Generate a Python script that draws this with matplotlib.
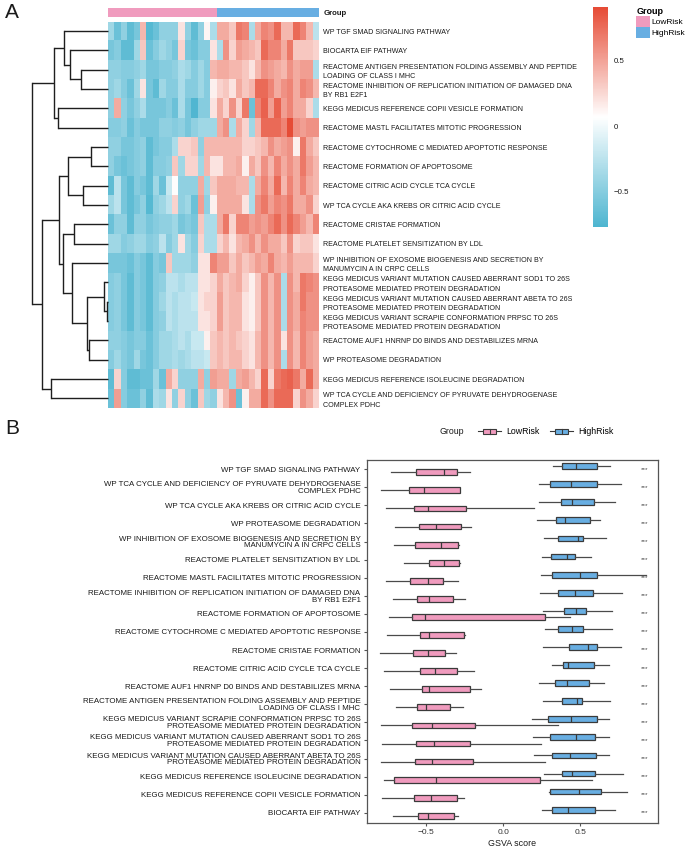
import numpy as np
import matplotlib
matplotlib.use("Agg")
import matplotlib.pyplot as plt
from matplotlib.colors import LinearSegmentedColormap, Normalize, ListedColormap
from matplotlib.patches import Patch, Rectangle
from matplotlib.lines import Line2D
from matplotlib.legend_handler import HandlerBase
import matplotlib.cm as cm

plt.rcParams['font.family'] = ['Liberation Sans', 'DejaVu Sans']

# ---------------- data ----------------
pathways = [
    "WP TGF SMAD SIGNALING PATHWAY",
    "BIOCARTA EIF PATHWAY",
    "REACTOME ANTIGEN PRESENTATION FOLDING ASSEMBLY AND PEPTIDE\nLOADING OF CLASS I MHC",
    "REACTOME INHIBITION OF REPLICATION INITIATION OF DAMAGED DNA\nBY RB1 E2F1",
    "KEGG MEDICUS REFERENCE COPII VESICLE FORMATION",
    "REACTOME MASTL FACILITATES MITOTIC PROGRESSION",
    "REACTOME CYTOCHROME C MEDIATED APOPTOTIC RESPONSE",
    "REACTOME FORMATION OF APOPTOSOME",
    "REACTOME CITRIC ACID CYCLE TCA CYCLE",
    "WP TCA CYCLE AKA KREBS OR CITRIC ACID CYCLE",
    "REACTOME CRISTAE FORMATION",
    "REACTOME PLATELET SENSITIZATION BY LDL",
    "WP INHIBITION OF EXOSOME BIOGENESIS AND SECRETION BY\nMANUMYCIN A IN CRPC CELLS",
    "KEGG MEDICUS VARIANT MUTATION CAUSED ABERRANT SOD1 TO 26S\nPROTEASOME MEDIATED PROTEIN DEGRADATION",
    "KEGG MEDICUS VARIANT MUTATION CAUSED ABERRANT ABETA TO 26S\nPROTEASOME MEDIATED PROTEIN DEGRADATION",
    "KEGG MEDICUS VARIANT SCRAPIE CONFORMATION PRPSC TO 26S\nPROTEASOME MEDIATED PROTEIN DEGRADATION",
    "REACTOME AUF1 HNRNP D0 BINDS AND DESTABILIZES MRNA",
    "WP PROTEASOME DEGRADATION",
    "KEGG MEDICUS REFERENCE ISOLEUCINE DEGRADATION",
    "WP TCA CYCLE AND DEFICIENCY OF PYRUVATE DEHYDROGENASE\nCOMPLEX PDHC",
]

group_names = ["LowRisk", "HighRisk"]
group_counts = [17, 16]
group_colors = ["#F09BBE", "#68AEE2"]

# GSVA scores per pathway (rows, heatmap order) x samples (17 LowRisk, 16 HighRisk)
heat_values = [
    [-0.38,-0.62,-0.45,-0.68,-0.56,0.40,-0.72,-0.62,-0.45,-0.45,-0.45,0.20,-0.45,-0.68,-0.45,0.11,-0.32,
     0.46,0.46,0.33,0.70,0.64,-0.32,0.46,0.64,0.58,0.76,0.40,0.40,0.76,0.64,0.40,-0.25],
    [-0.56,-0.50,-0.68,-0.68,-0.38,0.33,-0.62,-0.50,-0.38,-0.45,-0.56,0.27,-0.56,-0.62,-0.50,-0.50,0.20,
     -0.32,0.58,0.27,0.52,0.46,0.40,0.33,0.76,0.64,0.64,0.46,0.70,0.33,0.33,0.33,0.27],
    [-0.45,-0.45,-0.50,-0.50,-0.45,-0.38,-0.56,-0.56,-0.50,-0.50,-0.45,-0.32,-0.38,-0.50,-0.38,-0.50,0.40,
     0.46,0.46,0.40,0.40,0.33,0.20,0.40,0.58,0.52,0.46,0.40,0.58,0.46,0.52,0.52,-0.32],
    [-0.45,-0.38,-0.50,-0.62,-0.38,0.20,-0.56,-0.68,-0.38,-0.50,-0.50,-0.32,-0.50,-0.50,-0.38,-0.50,0.14,
     0.27,0.33,0.20,0.46,0.33,0.40,0.76,0.76,0.64,0.46,0.58,0.64,0.46,0.64,0.58,0.40],
    [-0.45,0.46,-0.45,-0.56,-0.45,-0.32,-0.56,-0.56,-0.56,-0.50,-0.62,-0.32,-0.56,-0.75,-0.50,-0.50,0.20,
     0.46,0.27,0.58,0.27,0.70,-0.62,0.64,0.80,0.52,0.80,0.52,0.64,0.46,0.46,0.27,-0.32],
    [-0.50,-0.50,-0.45,-0.62,-0.50,-0.56,-0.56,-0.56,-0.45,-0.45,-0.50,-0.45,-0.56,-0.45,-0.38,-0.38,-0.38,
     0.46,0.58,-0.32,0.46,0.27,-0.38,0.40,0.76,0.76,0.76,0.64,0.90,0.58,0.52,0.58,0.58],
    [-0.45,-0.45,-0.56,-0.56,-0.50,-0.45,-0.68,-0.56,-0.50,-0.50,-0.32,0.27,0.27,0.33,-0.45,0.40,0.40,
     0.40,0.40,0.40,0.40,0.27,0.27,0.33,0.40,0.58,0.46,0.52,0.58,0.14,0.70,0.46,0.33],
    [-0.45,-0.56,-0.62,-0.56,-0.50,-0.45,-0.68,-0.50,-0.50,-0.45,0.33,-0.38,0.27,0.27,-0.38,0.40,0.20,
     0.20,0.40,0.40,0.46,0.14,0.46,0.33,0.58,0.40,0.64,0.46,0.58,0.46,0.70,0.52,0.40],
    [-0.68,-0.25,-0.56,-0.68,-0.50,-0.56,-0.68,-0.38,-0.62,-0.19,0.08,-0.45,-0.45,-0.45,0.46,-0.38,0.33,
     0.46,0.46,0.46,0.40,0.40,-0.32,0.46,0.64,0.46,0.76,0.40,0.64,0.46,0.64,0.46,0.40],
    [-0.38,-0.25,-0.56,-0.68,-0.56,-0.45,-0.72,-0.45,-0.38,-0.25,0.27,-0.45,-0.38,-0.62,0.52,-0.45,0.14,
     0.46,0.46,0.46,0.46,0.20,-0.32,0.58,0.70,0.52,0.64,0.58,0.70,0.46,0.46,0.58,0.27],
    [-0.62,-0.45,-0.45,-0.68,-0.45,-0.45,-0.56,-0.50,-0.45,-0.45,-0.38,-0.56,-0.50,-0.56,0.33,-0.32,-0.32,
     0.46,0.70,0.27,0.64,0.64,0.52,0.58,0.52,0.64,0.76,0.58,0.76,0.64,0.52,0.40,0.64],
    [-0.38,-0.38,-0.50,-0.45,-0.38,-0.38,-0.50,-0.45,-0.25,-0.50,-0.38,0.20,-0.38,-0.50,0.27,-0.32,-0.32,
     0.27,0.40,0.20,0.40,0.46,0.58,0.40,0.58,0.46,0.46,0.33,0.58,0.27,0.33,0.33,0.20],
    [-0.56,-0.56,-0.56,-0.62,-0.50,-0.56,-0.68,-0.50,-0.56,0.33,-0.38,-0.38,-0.38,-0.45,0.20,0.20,0.64,
     0.52,0.52,0.33,0.46,0.33,0.40,0.52,0.46,0.64,0.46,0.40,0.52,0.40,0.40,0.40,0.27],
    [-0.50,-0.45,-0.56,-0.68,-0.50,-0.56,-0.68,-0.50,-0.45,-0.25,-0.25,-0.32,-0.25,-0.25,0.20,0.20,0.27,
     0.46,0.33,0.40,0.46,0.27,0.14,0.33,0.58,0.40,0.58,-0.32,0.58,0.40,0.70,0.64,0.58],
    [-0.50,-0.45,-0.56,-0.68,-0.50,-0.56,-0.68,-0.50,-0.38,-0.25,-0.32,-0.25,-0.25,-0.19,0.20,0.27,0.27,
     0.52,0.33,0.40,0.40,0.20,0.14,0.33,0.58,0.40,0.58,-0.32,0.58,0.46,0.70,0.58,0.58],
    [-0.50,-0.45,-0.56,-0.68,-0.50,-0.56,-0.68,-0.50,-0.45,-0.25,-0.32,-0.25,-0.25,-0.25,0.20,0.20,0.27,
     0.52,0.33,0.40,0.40,0.20,0.14,0.33,0.58,0.40,0.58,-0.32,0.58,0.46,0.64,0.58,0.58],
    [-0.45,-0.45,-0.50,-0.56,-0.50,-0.50,-0.62,-0.50,-0.38,-0.38,-0.32,-0.25,-0.32,-0.19,-0.19,0.14,0.33,
     0.40,0.33,0.40,0.33,0.27,0.20,0.40,0.58,0.40,0.58,0.20,0.58,0.40,0.64,0.52,0.46],
    [-0.50,-0.38,-0.50,-0.56,-0.38,-0.56,-0.62,-0.50,-0.38,-0.38,-0.32,-0.38,-0.32,-0.25,-0.25,-0.19,0.33,
     0.40,0.33,0.40,0.40,0.27,0.20,0.40,0.58,0.40,0.58,-0.32,0.58,0.40,0.64,0.52,0.46],
    [-0.68,0.27,-0.50,-0.68,-0.68,-0.62,-0.62,-0.38,-0.62,0.46,0.27,-0.45,-0.45,-0.45,0.46,-0.45,0.52,
     0.46,0.46,-0.38,0.46,0.52,0.40,0.27,0.76,0.27,0.70,0.76,0.80,0.70,0.46,0.76,0.46],
    [-0.62,0.52,-0.50,-0.62,-0.62,-0.45,-0.68,-0.32,-0.38,0.20,-0.45,0.27,-0.45,-0.62,0.33,-0.38,-0.45,
     0.20,0.40,0.58,-0.62,0.14,0.46,0.46,0.76,0.58,0.76,0.76,0.76,0.27,0.58,0.46,0.27],
]

# row dendrogram: (child a, child b, merge height); ids < 20 are rows, ids >= 20 earlier merges
row_merges = [
    (2, 3, 27.0), (1, 20, 38.7), (0, 21, 44.0), (4, 5, 50.7), (22, 23, 54.7),
    (6, 7, 17.3), (8, 9, 25.3), (25, 26, 40.3), (10, 11, 34.0), (14, 15, 1.3),
    (13, 29, 4.7), (16, 17, 19.7), (30, 31, 21.3), (12, 32, 36.3), (28, 33, 45.7),
    (27, 34, 49.0), (18, 19, 57.3), (35, 36, 66.3), (24, 37, 76.3),
]

color_limits = (-0.77, 0.91)
cbar_ticks = [-0.5, 0.0, 0.5]
cbar_ticklabels = ["\u22120.5", "0", "0.5"]

# Panel B: boxplot rows (top to bottom) as indices into `pathways`
box_order = [0, 19, 9, 17, 12, 11, 5, 3, 7, 6, 10, 8, 16, 2, 15, 13, 14, 18, 4, 1]
# [whisker low, Q1, median, Q3, whisker high]
low_stats = [
    [-0.725, -0.567, -0.385, -0.299, -0.216],
    [-0.792, -0.613, -0.511, -0.281, -0.277],
    [-0.762, -0.580, -0.487, -0.238, 0.203],
    [-0.703, -0.548, -0.433, -0.271, -0.208],
    [-0.710, -0.571, -0.405, -0.292, -0.286],
    [-0.641, -0.483, -0.385, -0.286, -0.280],
    [-0.762, -0.604, -0.485, -0.392, -0.292],
    [-0.716, -0.556, -0.481, -0.327, -0.245],
    [-0.738, -0.589, -0.504, 0.273, 0.435],
    [-0.753, -0.541, -0.483, -0.255, -0.250],
    [-0.801, -0.584, -0.485, -0.377, -0.305],
    [-0.775, -0.537, -0.439, -0.301, -0.186],
    [-0.736, -0.526, -0.483, -0.216, -0.143],
    [-0.695, -0.556, -0.502, -0.346, -0.260],
    [-0.790, -0.591, -0.463, -0.180, 0.355],
    [-0.784, -0.565, -0.450, -0.214, 0.247],
    [-0.790, -0.569, -0.463, -0.197, 0.275],
    [-0.775, -0.706, -0.437, 0.240, 0.578],
    [-0.784, -0.580, -0.465, -0.301, -0.255],
    [-0.716, -0.552, -0.485, -0.318, -0.294],
]
high_stats = [
    [0.322, 0.379, 0.476, 0.610, 0.693],
    [0.232, 0.303, 0.439, 0.610, 0.768],
    [0.234, 0.374, 0.448, 0.593, 0.723],
    [0.221, 0.342, 0.400, 0.563, 0.626],
    [0.266, 0.355, 0.487, 0.519, 0.669],
    [0.251, 0.310, 0.416, 0.465, 0.571],
    [0.245, 0.316, 0.496, 0.610, 0.924],
    [0.238, 0.353, 0.465, 0.582, 0.773],
    [0.262, 0.394, 0.474, 0.537, 0.706],
    [0.271, 0.355, 0.450, 0.517, 0.706],
    [0.258, 0.426, 0.552, 0.610, 0.768],
    [0.320, 0.387, 0.422, 0.589, 0.686],
    [0.232, 0.338, 0.416, 0.558, 0.656],
    [0.262, 0.379, 0.481, 0.511, 0.693],
    [0.190, 0.290, 0.442, 0.606, 0.688],
    [0.195, 0.303, 0.474, 0.597, 0.686],
    [0.199, 0.318, 0.435, 0.604, 0.688],
    [0.268, 0.379, 0.450, 0.595, 0.779],
    [0.297, 0.303, 0.494, 0.634, 0.805],
    [0.253, 0.320, 0.418, 0.595, 0.723],
]
signif = ["***", "***", "***", "***", "***", "***", "***", "***", "***", "***",
          "***", "***", "***", "***", "***", "***", "***", "***", "***", "***"]
box_xticks = [-0.5, 0.0, 0.5]

# ---------------- figure ----------------
W, H = 685, 848
fig = plt.figure(figsize=(W / 100, H / 100), dpi=100)


def px_axes(x0, y0, x1, y1):
    return fig.add_axes([x0 / W, 1 - y1 / H, (x1 - x0) / W, (y1 - y0) / H])


TXT = "#1a1a1a"
n_rows = len(pathways)
vals = np.array(heat_values)

cmap = LinearSegmentedColormap.from_list("bwr_npg", ["#4DB5D0", "#FFFFFF", "#E64B35"], N=256)
norm = Normalize(vmin=color_limits[0], vmax=color_limits[1])

# --- panel labels
fig.text(5 / W, 1 - 13 / H, "A", fontsize=15, va="center", ha="left", color=TXT)
fig.text(5 / W, 1 - 428 / H, "B", fontsize=15, va="center", ha="left", color=TXT)

# --- heatmap
hx0, hx1, hy0, hy1 = 108.3, 319.3, 21.5, 408.0
axh = px_axes(hx0, hy0, hx1, hy1)
axh.imshow(vals, cmap=cmap, norm=norm, aspect="auto", interpolation="nearest")
axh.set_xticks([])
axh.yaxis.tick_right()
axh.set_yticks(np.arange(n_rows))
axh.set_yticklabels(pathways, fontsize=5.15, color=TXT, linespacing=1.45)
axh.tick_params(axis="y", length=0, pad=2.8)
for s in axh.spines.values():
    s.set_visible(False)

# --- group annotation bar
axg = px_axes(hx0, 8.3, hx1, 16.7)
grp_idx = np.repeat(np.arange(len(group_names)), group_counts)[None, :]
axg.imshow(grp_idx, cmap=ListedColormap(group_colors), aspect="auto", interpolation="nearest",
           vmin=0, vmax=len(group_names) - 1)
axg.set_xticks([])
axg.set_yticks([0])
axg.yaxis.tick_right()
axg.set_yticklabels(["Group"], fontsize=5.6, fontweight="bold", color=TXT)
axg.tick_params(axis="y", length=0, pad=2.8)
for s in axg.spines.values():
    s.set_visible(False)

# --- row dendrogram
axd = px_axes(31.0, hy0, hx0, hy1)
pos = {i: float(i) for i in range(n_rows)}
hgt = {i: 0.0 for i in range(n_rows)}
for k, (a, b, h) in enumerate(row_merges):
    cid = n_rows + k
    for c in (a, b):
        axd.plot([hgt[c], h], [pos[c], pos[c]], color="#1e1e1e", lw=1.0, solid_capstyle="butt", clip_on=False)
    axd.plot([h, h], [pos[a], pos[b]], color="#1e1e1e", lw=1.0, solid_capstyle="projecting", clip_on=False)
    pos[cid] = (pos[a] + pos[b]) / 2
    hgt[cid] = h
axd.set_xlim(hx0 - 31.0, 0)
axd.set_ylim(n_rows - 0.5, -0.5)
axd.axis("off")

# --- colorbar
axc = px_axes(593, 7, 608, 227)
cb = fig.colorbar(cm.ScalarMappable(norm=norm, cmap=cmap), cax=axc)
cb.outline.set_visible(False)
cb.set_ticks(cbar_ticks)
cb.set_ticklabels(cbar_ticklabels)
axc.tick_params(length=0, labelsize=5.7, pad=4, colors=TXT)

# --- group legend (panel A)
legA = fig.legend(handles=[Patch(facecolor=c, edgecolor="none") for c in group_colors],
                  labels=group_names, title="Group", loc="upper left",
                  bbox_to_anchor=(632 / W, 1 - 3 / H), frameon=False, fontsize=6.0,
                  handlelength=1.6, handleheight=1.6, handletextpad=0.2,
                  labelspacing=0.02, borderpad=0.0, alignment="left")
legA.get_title().set_fontweight("bold")
legA.get_title().set_fontsize(6.5)

# --- panel B boxplot
axb = px_axes(366.7, 460.0, 658.0, 822.7)
edge = "#3a3a3a"
off = 0.17
bw = 0.32
ypos = np.arange(len(box_order))


def stats_list(arr):
    return [dict(whislo=s[0], q1=s[1], med=s[2], q3=s[3], whishi=s[4], fliers=[]) for s in arr]


for stats, dy, col in ((low_stats, off, group_colors[0]), (high_stats, -off, group_colors[1])):
    axb.bxp(stats_list(stats), positions=ypos + dy, widths=bw, orientation="horizontal",
            patch_artist=True, showcaps=False, showfliers=False, manage_ticks=False,
            boxprops=dict(facecolor=col, edgecolor=edge, linewidth=0.9),
            medianprops=dict(color=edge, linewidth=0.9),
            whiskerprops=dict(color="#4a4a4a", linewidth=0.9))

for i, s in enumerate(signif):
    axb.text(0.92, i, s, fontsize=4.6, color="#444444", ha="center", va="center")

axb.set_xlim(-0.885, 1.005)
axb.set_ylim(len(box_order) - 0.45, -0.51)
axb.set_yticks(ypos)
axb.set_yticklabels([pathways[i] for i in box_order], fontsize=5.7, color=TXT, linespacing=0.95)
axb.set_xticks(box_xticks)
axb.set_xticklabels(["\u22120.5", "0.0", "0.5"], fontsize=6.0, color="#333333")
axb.set_xlabel("GSVA score", fontsize=6.4, color=TXT, labelpad=2)
for s in axb.spines.values():
    s.set_color("#555555")
    s.set_linewidth(0.9)
axb.tick_params(axis="both", length=2.5, width=0.8, color="#555555", pad=2)


# legend for panel B with boxplot-like keys
class BoxKey(HandlerBase):
    def create_artists(self, legend, orig_handle, xdescent, ydescent, width, height, fontsize, trans):
        fc = orig_handle.get_facecolor()
        x0 = -xdescent
        y0 = -ydescent
        yc = y0 + height / 2
        bl, br = x0 + width * 0.22, x0 + width * 0.78
        return [
            Line2D([x0, bl], [yc, yc], color=edge, lw=0.8, transform=trans),
            Line2D([br, x0 + width], [yc, yc], color=edge, lw=0.8, transform=trans),
            Rectangle((bl, y0 + height * 0.1), br - bl, height * 0.8, facecolor=fc, edgecolor=edge,
                      lw=0.8, transform=trans),
            Line2D([(bl + br) / 2] * 2, [y0 + height * 0.1, y0 + height * 0.9], color=edge, lw=0.8,
                   transform=trans),
        ]


fig.text(440 / W, 1 - 432 / H, "Group", fontsize=6.3, color=TXT, va="center", ha="left")
legB = fig.legend(handles=[Patch(facecolor=c) for c in group_colors], labels=group_names,
                  handler_map={Patch: BoxKey()}, loc="center left", ncol=2,
                  bbox_to_anchor=(474 / W, 1 - 432 / H), frameon=False, fontsize=6.3,
                  handlelength=2.6, handleheight=0.9, handletextpad=0.6, columnspacing=1.2,
                  borderpad=0.0)

fig.savefig("out.png", dpi=100)
